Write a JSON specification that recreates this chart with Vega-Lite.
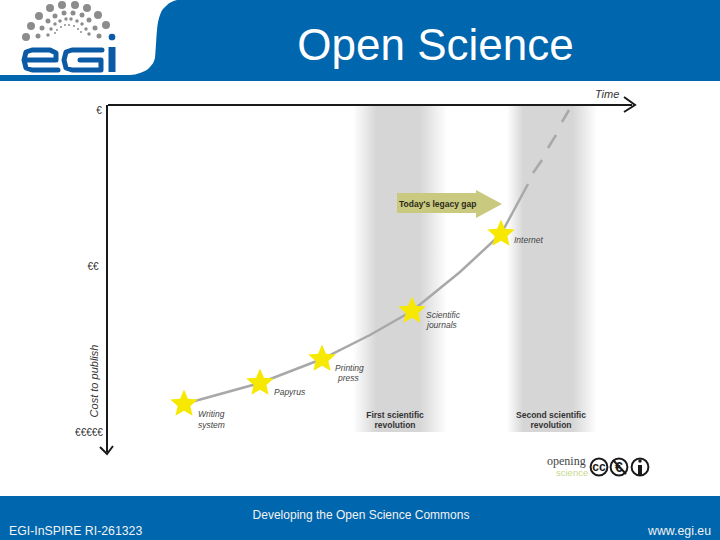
{
"$schema":"https://vega.github.io/schema/vega-lite/v6.json",
"width":720,"height":540,
"autosize":{"type":"fit","contains":"padding"},
"padding":0,
"background":"white",
"config":{"view":{"stroke":null},"text":{"font":"Liberation Sans"}},
"datasets":{
"band1":[{"x":353,"x2":447,"y":106,"y2":432}],
"band2":[{"x":507,"x2":597,"y":106,"y2":432}],
"blue":[{"x":0,"x2":720,"y":0,"y2":81},{"x":0,"x2":720,"y":496,"y2":540}],
"corner":[{"x":0,"y":0,"y2":75},{"x":130,"y":0,"y2":75},{"x":140,"y":0,"y2":73},{"x":150,"y":0,"y2":67},{"x":155,"y":0,"y2":58},{"x":157,"y":0,"y2":30},{"x":160,"y":0,"y2":15},{"x":166,"y":0,"y2":6},{"x":177,"y":0,"y2":0}],
"axes":[
{"s":"h","o":1,"x":108,"y":105},{"s":"h","o":2,"x":632,"y":105},
{"s":"v","o":1,"x":107,"y":105},{"s":"v","o":2,"x":107,"y":452},
{"s":"ah","o":1,"x":624,"y":97},{"s":"ah","o":2,"x":635,"y":105},{"s":"ah","o":3,"x":624,"y":112},
{"s":"av","o":1,"x":100,"y":447},{"s":"av","o":2,"x":107,"y":454},{"s":"av","o":3,"x":113,"y":446}],
"curve":[
{"s":"a","o":1,"x":184,"y":404},{"s":"a","o":2,"x":260,"y":383},{"s":"a","o":3,"x":322,"y":359},{"s":"a","o":4,"x":370,"y":335},{"s":"a","o":5,"x":412,"y":311},{"s":"a","o":6,"x":460,"y":272},{"s":"a","o":7,"x":501,"y":234},{"s":"a","o":8,"x":528,"y":184},
{"s":"b","o":1,"x":533,"y":173},{"s":"b","o":2,"x":542,"y":160},
{"s":"c","o":1,"x":548,"y":148},{"s":"c","o":2,"x":556,"y":135},
{"s":"d","o":1,"x":562,"y":122},{"s":"d","o":2,"x":569,"y":110}],
"stars":[{"x":184,"y":404},{"x":260,"y":383},{"x":322,"y":359},{"x":412,"y":311},{"x":501,"y":234}],
"gap":[{"x":397,"y":193,"y2":213},{"x":476,"y":193,"y2":213},{"x":476,"y":190,"y2":218},{"x":502,"y":204,"y2":204}],
"logoDots":[
{"x":26,"y":37,"z":64},{"x":31,"y":26,"z":64},{"x":39,"y":16,"z":64},{"x":50,"y":8,"z":64},{"x":62,"y":5,"z":64},{"x":75,"y":5,"z":64},{"x":87,"y":8,"z":64},{"x":98,"y":15,"z":64},{"x":106,"y":25,"z":64},
{"x":38,"y":36,"z":25},{"x":42,"y":28,"z":25},{"x":48,"y":21,"z":25},{"x":55,"y":16,"z":25},{"x":64,"y":13,"z":25},{"x":73,"y":13,"z":25},{"x":82,"y":15,"z":25},{"x":89,"y":20,"z":25},{"x":95,"y":28,"z":25},{"x":99,"y":36,"z":25},
{"x":48,"y":35,"z":12},{"x":51,"y":29,"z":12},{"x":55,"y":24,"z":12},{"x":60,"y":21,"z":12},{"x":66,"y":19,"z":12},{"x":71,"y":19,"z":12},{"x":77,"y":21,"z":12},{"x":82,"y":24,"z":12},{"x":86,"y":29,"z":12},{"x":89,"y":34,"z":12},
{"x":55,"y":33,"z":4},{"x":57,"y":30,"z":4},{"x":61,"y":27,"z":4},{"x":65,"y":25,"z":4},{"x":69,"y":25,"z":4},{"x":74,"y":26,"z":4},{"x":78,"y":29,"z":4},{"x":81,"y":32,"z":4}],
"logoLetters":[
{"s":"e","o":1,"x":58,"y":70},{"s":"e","o":2,"x":32,"y":70},{"s":"e","o":3,"x":26,"y":68},{"s":"e","o":4,"x":24,"y":60},{"s":"e","o":5,"x":26,"y":52},{"s":"e","o":6,"x":32,"y":50},{"s":"e","o":7,"x":50,"y":50},{"s":"e","o":8,"x":56,"y":53},{"s":"e","o":9,"x":56,"y":60},{"s":"e","o":10,"x":25,"y":60},
{"s":"g","o":1,"x":102,"y":50},{"s":"g","o":2,"x":72,"y":50},{"s":"g","o":3,"x":66,"y":52},{"s":"g","o":4,"x":64,"y":60},{"s":"g","o":5,"x":66,"y":68},{"s":"g","o":6,"x":72,"y":70},{"s":"g","o":7,"x":101,"y":70},{"s":"g","o":8,"x":101,"y":60},{"s":"g","o":9,"x":80,"y":60}],
"logoI":[{"x":112,"y":47},{"x":112,"y":72}],
"ccMarks":[{"x":599,"y":467},{"x":619,"y":467},{"x":640,"y":467}],
"strike":[{"s":"n","o":1,"x":613,"y":460},{"s":"n","o":2,"x":626,"y":474}],
"person":[{"x":640,"y":465},{"x":640,"y":475}]
},
"encoding":{
"x":{"field":"x","type":"quantitative","scale":{"domain":[0,720],"nice":false,"zero":false},"axis":null},
"y":{"field":"y","type":"quantitative","scale":{"domain":[540,0],"nice":false,"zero":false},"axis":null}
},
"layer":[
{"data":{"name":"band1"},"mark":{"type":"rect","fill":{"gradient":"linear","x1":0,"x2":1,"y1":0,"y2":0,"stops":[{"offset":0,"color":"#ffffff"},{"offset":0.25,"color":"#d6d6d6"},{"offset":0.71,"color":"#d6d6d6"},{"offset":1,"color":"#ffffff"}]}},"encoding":{"x2":{"field":"x2"},"y2":{"field":"y2"}}},
{"data":{"name":"band2"},"mark":{"type":"rect","fill":{"gradient":"linear","x1":0,"x2":1,"y1":0,"y2":0,"stops":[{"offset":0,"color":"#ffffff"},{"offset":0.18,"color":"#d6d6d6"},{"offset":0.73,"color":"#d6d6d6"},{"offset":1,"color":"#ffffff"}]}},"encoding":{"x2":{"field":"x2"},"y2":{"field":"y2"}}},
{"data":{"name":"blue"},"mark":{"type":"rect","fill":"#0066ad"},"encoding":{"x2":{"field":"x2"},"y2":{"field":"y2"}}},
{"data":{"name":"corner"},"mark":{"type":"area","fill":"#ffffff","interpolate":"monotone"},"encoding":{"y2":{"field":"y2"}}},
{"data":{"name":"axes"},"mark":{"type":"line","stroke":"#1a1a1a","strokeWidth":2},"encoding":{"detail":{"field":"s"},"order":{"field":"o"}}},
{"data":{"name":"curve"},"mark":{"type":"line","stroke":"#a8a8a8","strokeWidth":2.5,"interpolate":"linear"},"encoding":{"detail":{"field":"s"},"order":{"field":"o"}}},
{"data":{"name":"stars"},"mark":{"type":"point","filled":true,"fill":"#f6e800","opacity":1,"size":840,"shape":"M0,-1L0.27,-0.36L0.951,-0.309L0.44,0.14L0.588,0.809L0,0.46L-0.588,0.809L-0.44,0.14L-0.951,-0.309L-0.27,-0.36Z"}},
{"data":{"name":"gap"},"mark":{"type":"area","fill":"#c9c97f"},"encoding":{"y2":{"field":"y2"}}},
{"data":{"values":[{"x":399,"y":203.5,"t":"Today's legacy gap"}]},"mark":{"type":"text","align":"left","fontWeight":"bold","fontSize":8.5,"fill":"#2b2b1a"},"encoding":{"text":{"field":"t"}}},
{"data":{"values":[{"x":198,"y":417,"t":"Writing"},{"x":198,"y":428,"t":"system"},{"x":274,"y":395,"t":"Papyrus"},{"x":335,"y":371,"t":"Printing"},{"x":338,"y":381,"t":"press"},{"x":426,"y":318,"t":"Scientific"},{"x":427,"y":328,"t":"journals"},{"x":514,"y":243,"t":"Internet"}]},"mark":{"type":"text","align":"left","fontStyle":"italic","fontSize":8.5,"fill":"#444444","baseline":"alphabetic"},"encoding":{"text":{"field":"t"}}},
{"data":{"values":[{"x":395,"y":418,"t":"First scientific"},{"x":395,"y":428,"t":"revolution"},{"x":551,"y":418,"t":"Second scientific"},{"x":551,"y":428,"t":"revolution"}]},"mark":{"type":"text","align":"center","fontWeight":"bold","fontSize":8.5,"fill":"#333333","baseline":"alphabetic"},"encoding":{"text":{"field":"t"}}},
{"data":{"values":[{"x":595,"y":98,"t":"Time"}]},"mark":{"type":"text","align":"left","fontStyle":"italic","fontSize":11,"fill":"#333333","baseline":"alphabetic"},"encoding":{"text":{"field":"t"}}},
{"data":{"values":[{"x":99,"y":114,"t":"€"},{"x":93,"y":270,"t":"€€"},{"x":89,"y":436,"t":"€€€€€"}]},"mark":{"type":"text","align":"center","fontSize":10,"fill":"#333333","baseline":"alphabetic"},"encoding":{"text":{"field":"t"}}},
{"data":{"values":[{"x":95,"y":381,"t":"Cost to publish"}]},"mark":{"type":"text","align":"center","baseline":"middle","angle":270,"fontStyle":"italic","fontSize":11,"fill":"#333333"},"encoding":{"text":{"field":"t"}}},
{"data":{"name":"logoDots"},"mark":{"type":"point","filled":true,"fill":"#8c8c8c","opacity":1},"encoding":{"size":{"field":"z","type":"quantitative","scale":null}}},
{"data":{"values":[{"x":112,"y":37}]},"mark":{"type":"point","filled":true,"fill":"#0a5aa5","opacity":1,"size":45}},
{"data":{"name":"logoLetters"},"mark":{"type":"line","stroke":"#0a5aa5","strokeWidth":5,"strokeCap":"round","strokeJoin":"round"},"encoding":{"detail":{"field":"s"},"order":{"field":"o"}}},
{"data":{"name":"logoI"},"mark":{"type":"line","stroke":"#0a5aa5","strokeWidth":7},"encoding":{}},
{"data":{"values":[{"x":435.5,"y":60,"t":"Open Science"}]},"mark":{"type":"text","align":"center","fontSize":44,"fill":"#ffffff","baseline":"alphabetic"},"encoding":{"text":{"field":"t"}}},
{"data":{"values":[{"x":361,"y":519,"t":"Developing the Open Science Commons"}]},"mark":{"type":"text","align":"center","fontSize":12,"fill":"#f2f2f2","baseline":"alphabetic"},"encoding":{"text":{"field":"t"}}},
{"data":{"values":[{"x":9,"y":535,"t":"EGI-InSPIRE RI-261323"}]},"mark":{"type":"text","align":"left","fontSize":12.3,"fill":"#f2f2f2","baseline":"alphabetic"},"encoding":{"text":{"field":"t"}}},
{"data":{"values":[{"x":711,"y":535,"t":"www.egi.eu"}]},"mark":{"type":"text","align":"right","fontSize":12.3,"fill":"#f2f2f2","baseline":"alphabetic"},"encoding":{"text":{"field":"t"}}},
{"data":{"name":"ccMarks"},"mark":{"type":"point","shape":"circle","filled":false,"stroke":"#1a1a1a","strokeWidth":2,"opacity":1,"size":283}},
{"data":{"values":[{"x":599,"y":471,"t":"cc"}]},"mark":{"type":"text","align":"center","fontWeight":"bold","fontSize":12,"fill":"#1a1a1a","baseline":"alphabetic"},"encoding":{"text":{"field":"t"}}},
{"data":{"values":[{"x":619,"y":472,"t":"€"}]},"mark":{"type":"text","align":"center","fontWeight":"bold","fontSize":14,"fill":"#1a1a1a","baseline":"alphabetic"},"encoding":{"text":{"field":"t"}}},
{"data":{"name":"strike"},"mark":{"type":"line","stroke":"#1a1a1a","strokeWidth":2},"encoding":{"detail":{"field":"s"},"order":{"field":"o"}}},
{"data":{"name":"person"},"mark":{"type":"line","stroke":"#1a1a1a","strokeWidth":4},"encoding":{}},
{"data":{"values":[{"x":640,"y":461}]},"mark":{"type":"point","filled":true,"fill":"#1a1a1a","opacity":1,"size":12}},
{"data":{"values":[{"x":547,"y":465,"t":"opening"}]},"mark":{"type":"text","align":"left","font":"Liberation Serif","fontSize":12,"fill":"#444444","baseline":"alphabetic"},"encoding":{"text":{"field":"t"}}},
{"data":{"values":[{"x":556,"y":476,"t":"science"}]},"mark":{"type":"text","align":"left","fontSize":9.5,"fill":"#c8d88c","baseline":"alphabetic"},"encoding":{"text":{"field":"t"}}}
]
}
